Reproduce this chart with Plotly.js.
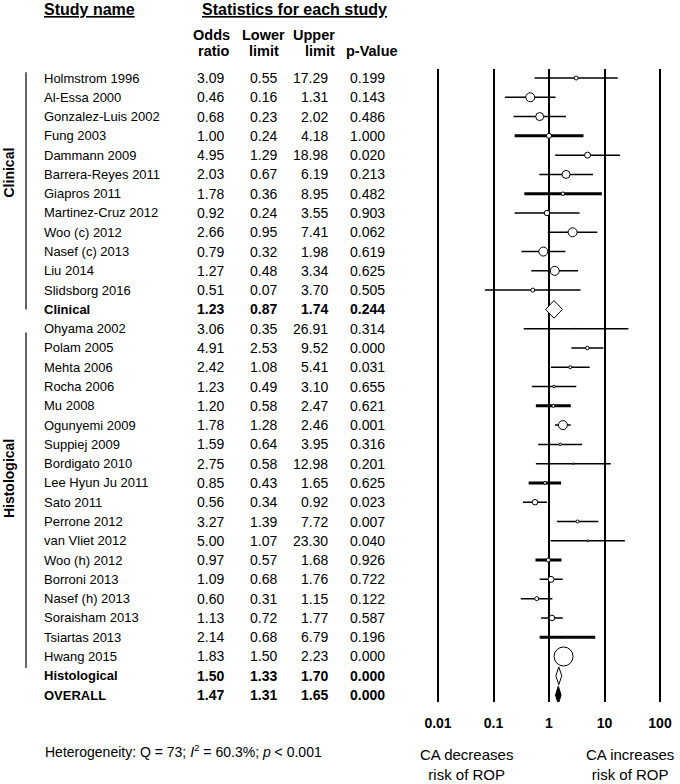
<!DOCTYPE html>
<html>
<head>
<meta charset="utf-8">
<script src="https://cdn.plot.ly/plotly-3.0.1.min.js"></script>
<style>
  body { margin: 0; background: #fff; }
  #plot { width: 680px; height: 784px; }
</style>
</head>
<body>
<div id="plot"></div>
<script>
// study table data
var studies = [
  "Holmstrom 1996", "Al-Essa 2000", "Gonzalez-Luis 2002", "Fung 2003", "Dammann 2009",
  "Barrera-Reyes 2011", "Giapros 2011", "Martinez-Cruz 2012", "Woo (c) 2012", "Nasef (c) 2013",
  "Liu 2014", "Slidsborg 2016", "Clinical",
  "Ohyama 2002", "Polam 2005", "Mehta 2006", "Rocha 2006", "Mu 2008", "Ogunyemi 2009",
  "Suppiej 2009", "Bordigato 2010", "Lee Hyun Ju 2011", "Sato 2011", "Perrone 2012",
  "van Vliet 2012", "Woo (h) 2012", "Borroni 2013", "Nasef (h) 2013", "Soraisham 2013",
  "Tsiartas 2013", "Hwang 2015", "Histological", "OVERALL"
];
var rowType = [
  "s","s","s","s","s","s","s","s","s","s","s","s","sub",
  "s","s","s","s","s","s","s","s","s","s","s","s","s","s","s","s","s","s","sub","all"
];
var oddsRatio = [3.09, 0.46, 0.68, 1.00, 4.95, 2.03, 1.78, 0.92, 2.66, 0.79, 1.27, 0.51, 1.23,
  3.06, 4.91, 2.42, 1.23, 1.20, 1.78, 1.59, 2.75, 0.85, 0.56, 3.27, 5.00, 0.97, 1.09, 0.60,
  1.13, 2.14, 1.83, 1.50, 1.47];
var lowerLimit = [0.55, 0.16, 0.23, 0.24, 1.29, 0.67, 0.36, 0.24, 0.95, 0.32, 0.48, 0.07, 0.87,
  0.35, 2.53, 1.08, 0.49, 0.58, 1.28, 0.64, 0.58, 0.43, 0.34, 1.39, 1.07, 0.57, 0.68, 0.31,
  0.72, 0.68, 1.50, 1.33, 1.31];
var upperLimit = [17.29, 1.31, 2.02, 4.18, 18.98, 6.19, 8.95, 3.55, 7.41, 1.98, 3.34, 3.70, 1.74,
  26.91, 9.52, 5.41, 3.10, 2.47, 2.46, 3.95, 12.98, 1.65, 0.92, 7.72, 23.30, 1.68, 1.76, 1.15,
  1.77, 6.79, 2.23, 1.70, 1.65];
var pValue = [0.199, 0.143, 0.486, 1.000, 0.020, 0.213, 0.482, 0.903, 0.062, 0.619, 0.625, 0.505, 0.244,
  0.314, 0.000, 0.031, 0.655, 0.621, 0.001, 0.316, 0.201, 0.625, 0.023, 0.007, 0.040, 0.926, 0.722,
  0.122, 0.587, 0.196, 0.000, 0.000, 0.000];
var tickVals = [0.01, 0.1, 1, 10, 100];

// drawing style per row (box size ~ weight, thick CI lines as in the original)
var boxSize = [4, 9, 8, 5, 6, 8, 3.5, 5.5, 9, 9, 9, 4, 0,
  1, 3.5, 3, 2.5, 3, 9, 2.5, 1.5, 3, 5.5, 3, 2, 4, 6, 4, 5.5, 1, 19, 0, 0];
var thickLine = [0,0,0,1,0,0,1,0,0,0,0,0,0, 0,0,0,0,1,0,0,0,1,0,0,0,1,0,0,0,1,0,0,0];

var W = 680, H = 784;
var FONT = 'Arial, "Liberation Sans", sans-serif';
function px(x) { return x / W; }
function py(y) { return 1 - y / H; }

var traces = [];
var thin = {x: [], y: []}, thick = {x: [], y: []};
var mx = [], my = [], ms = [];
studies.forEach(function (s, i) {
  if (rowType[i] === "s") {
    var t = thickLine[i] ? thick : thin;
    t.x.push(lowerLimit[i], upperLimit[i], null);
    t.y.push(i, i, null);
    mx.push(oddsRatio[i]); my.push(i); ms.push(boxSize[i]);
  }
});
traces.push(
  {x: thin.x, y: thin.y, mode: "lines", line: {color: "black", width: 1.5}, hoverinfo: "skip"},
  {x: thick.x, y: thick.y, mode: "lines", line: {color: "black", width: 3}, hoverinfo: "skip"}
);
// summary diamonds
studies.forEach(function (s, i) {
  if (rowType[i] === "s") return;
  var h = 0.46;
  traces.push({
    x: [lowerLimit[i], oddsRatio[i], upperLimit[i], oddsRatio[i], lowerLimit[i]],
    y: [i, i - h, i, i + h, i],
    mode: "lines", fill: "toself",
    fillcolor: rowType[i] === "all" ? "black" : "white",
    line: {color: "black", width: 1}, hoverinfo: "skip"
  });
});
// point estimates on top of the CI lines
traces.push({x: mx, y: my, mode: "markers", hoverinfo: "skip",
  marker: {symbol: "circle", size: ms, color: "white", opacity: 1,
           line: {color: "black", width: 1}}});

// table text
var ann = [];
function txt(text, x, y, opts) {
  var a = {text: text, x: x, y: y, xref: "paper", yref: "y", showarrow: false,
    xanchor: "left", yanchor: "middle", font: {family: FONT, size: 13, color: "black"}};
  for (var k in opts) a[k] = opts[k];
  ann.push(a);
}
var numFont = {family: FONT, size: 14, color: "black"};
studies.forEach(function (s, i) {
  var b = rowType[i] !== "s";
  function f(v) { return b ? "<b>" + v + "</b>" : v; }
  txt(f(s), px(42), i, {});
  txt(f(oddsRatio[i].toFixed(2)), px(226), i, {xanchor: "right", font: numFont});
  txt(f(lowerLimit[i].toFixed(2)), px(279), i, {xanchor: "right", font: numFont});
  txt(f(upperLimit[i].toFixed(2)), px(330), i, {xanchor: "right", font: numFont});
  txt(f(pValue[i].toFixed(3)), px(387), i, {xanchor: "right", font: numFont});
});

function head(text, x, y, anchor, size) {
  ann.push({text: text, x: px(x), y: py(y), xref: "paper", yref: "paper", showarrow: false,
    xanchor: anchor, yanchor: "middle", font: {family: FONT, size: size, color: "black"}});
}
head("<b><u>Study name</u></b>", 42, 10, "left", 16);
head("<b><u>Statistics for each study</u></b>", 200, 10, "left", 16);
head("<b>Odds</b>", 232, 35, "right", 14.5);
head("<b>ratio</b>", 232, 51, "right", 14.5);
head("<b>Lower</b>", 263, 35, "center", 14.5);
head("<b>limit</b>", 264, 51, "center", 14.5);
head("<b>Upper</b>", 337, 35, "right", 14.5);
head("<b>limit</b>", 337, 51, "right", 14.5);
head("<b>p-Value</b>", 400, 51, "right", 14.5);
head("Heterogeneity: Q = 73; <i>I</i><sup>2</sup> = 60.3%; <i>p</i> < 0.001", 43, 751, "left", 14);
head("CA decreases<br>risk of ROP", 466, 764, "center", 15);
head("CA increases<br>risk of ROP", 630, 764, "center", 15);

// group labels
txt("<b>Clinical</b>", px(9), 4.9, {xanchor: "center", textangle: -90, font: {family: FONT, size: 14, color: "black"}});
txt("<b>Histological</b>", px(9), 20.8, {xanchor: "center", textangle: -90, font: {family: FONT, size: 14, color: "black"}});
var shapes = [
  {type: "line", xref: "paper", yref: "y", x0: px(26), x1: px(26), y0: -0.3, y1: 12.0, line: {color: "black", width: 1.2}},
  {type: "line", xref: "paper", yref: "y", x0: px(26), x1: px(26), y0: 13.2, y1: 30.6, line: {color: "black", width: 1.2}}
];

var layout = {
  width: W, height: H,
  margin: {l: 0, r: 0, t: 0, b: 0},
  paper_bgcolor: "white", plot_bgcolor: "white",
  showlegend: false, hovermode: false,
  xaxis: {
    type: "log", range: [-2.1, 2.1], domain: [px(432.45), px(665.55)],
    tickvals: tickVals, ticktext: tickVals.map(function (v) { return "<b>" + v + "</b>"; }),
    tickfont: {family: FONT, size: 14, color: "black"},
    showgrid: true, gridcolor: "black", gridwidth: 2, zeroline: false, showline: false,
    ticks: "outside", ticklen: 8, tickcolor: "rgba(0,0,0,0)"
  },
  yaxis: {
    range: [32.36, -0.467], domain: [py(702), py(69)],
    showgrid: false, zeroline: false, showline: false, showticklabels: false, ticks: ""
  },
  annotations: ann,
  shapes: shapes
};

Plotly.newPlot("plot", traces, layout, {staticPlot: true});
</script>
</body>
</html>
